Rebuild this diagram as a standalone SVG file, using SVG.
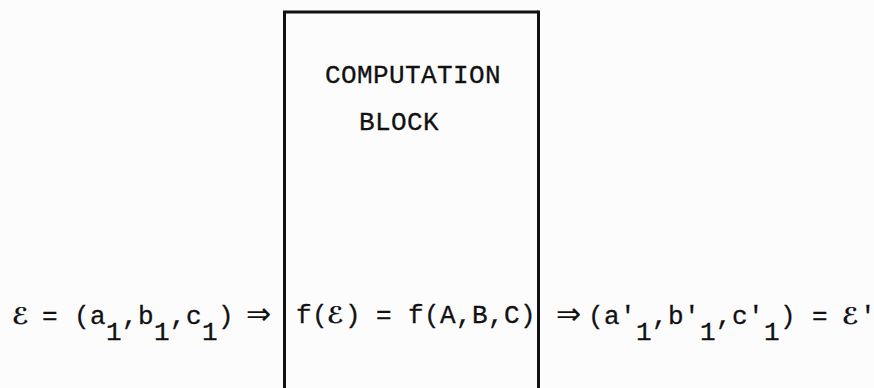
<svg xmlns="http://www.w3.org/2000/svg" width="874" height="388" viewBox="0 0 874 388">
<style>
.t{font-family:"Liberation Mono","DejaVu Sans Mono",monospace;font-size:26px;fill:#111;stroke:#111;stroke-width:0.3}
.e{font-family:"DejaVu Serif","DejaVu Sans",serif;font-weight:bold;font-size:23px;stroke-width:0.2}
.ar{font-family:"DejaVu Sans","DejaVu Sans Mono",sans-serif;font-size:30px;stroke-width:0.1}
.box{fill:none;stroke:#111;stroke-width:3}
</style>
<rect width="874" height="388" fill="#fcfcfc"/>
<g id="computation-block">
<path class="box" d="M284.5 392 V12 H538"/>
<path class="box" stroke-width="4" d="M538.5 10.5 V392"/>
<text class="t" x="325" y="83" letter-spacing="0.4">COMPUTATION</text>
<text class="t" x="359" y="130" letter-spacing="0.4">BLOCK</text>
<text class="t" y="323"><tspan x="296 312">f(</tspan><tspan class="e" x="327">ℰ</tspan><tspan x="345 376 408 424 440 456 472 488 504 520">)=f(A,B,C)</tspan></text>
</g>
<g id="input">
<text class="t" y="324"><tspan class="e" x="12">ℰ</tspan><tspan x="42 74 90">=(a</tspan><tspan x="106" y="340">1</tspan><tspan x="122 138" y="324">,b</tspan><tspan x="154" y="340">1</tspan><tspan x="170 186" y="324">,c</tspan><tspan x="202" y="340">1</tspan><tspan x="218" y="324">)</tspan><tspan class="ar" x="246" y="324">⇒</tspan></text>
</g>
<g id="output">
<text class="t" y="324"><tspan class="ar" x="556">⇒</tspan><tspan x="588 604 620" y="324">(a'</tspan><tspan x="636" y="340">1</tspan><tspan x="652 668 684" y="324">,b'</tspan><tspan x="700" y="340">1</tspan><tspan x="716 732 748" y="324">,c'</tspan><tspan x="764" y="340">1</tspan><tspan x="780 812" y="324">)=</tspan><tspan class="e" x="842">ℰ</tspan><tspan x="860">'</tspan></text>
</g>
</svg>
